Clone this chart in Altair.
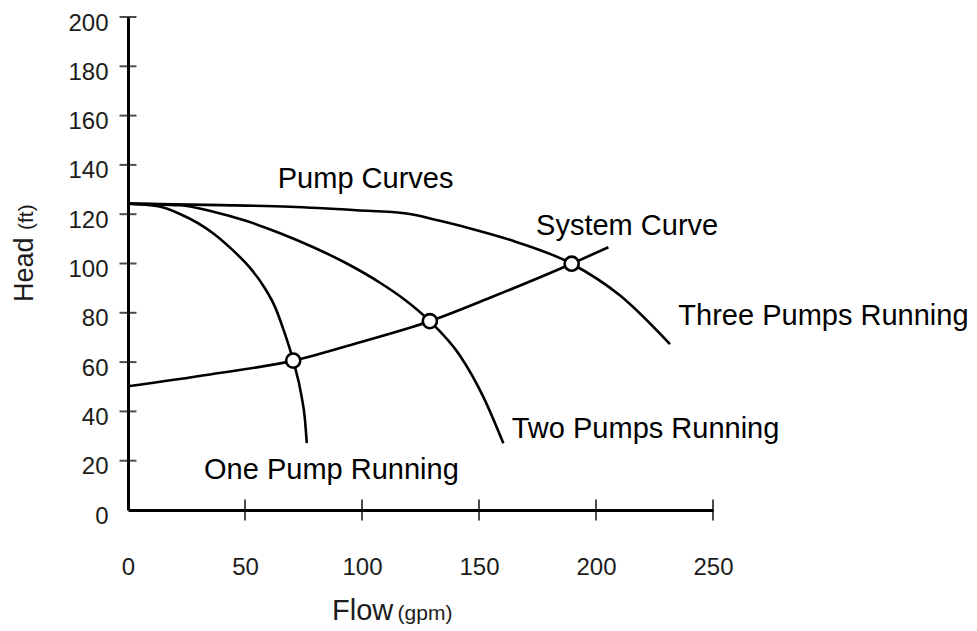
import altair as alt
import pandas as pd

# Axis tick values
flow_ticks = [0, 50, 100, 150, 200, 250]
head_ticks = [0, 20, 40, 60, 80, 100, 120, 140, 160, 180, 200]

# Pump curves (flow gpm, head ft)
one_flow = [0, 12.9, 22.2, 36.5, 45, 52, 57.8, 63, 66.4, 70.6, 74.2, 75.6, 76.4]
one_head = [124.3, 123.2, 120.1, 112.2, 105.2, 98.4, 91, 82, 73.3, 60.6, 46, 37, 27.1]

two_flow = [0, 22.2, 36.5, 50.7, 65, 79.2, 93.5, 107.7, 118, 129, 141.9, 151.8, 160.4]
two_head = [124.3, 123.6, 121, 117.2, 112.3, 106.6, 100, 92.2, 85.5, 76.6, 62.6, 46, 27.1]

three_flow = [0, 40, 69.2, 97.7, 119, 133.3, 149, 163.2, 189.6, 210.3, 231.6]
three_head = [124.3, 123.7, 123, 121.6, 120.3, 117.3, 113.5, 109.6, 99.9, 87, 67.3]

# System curve
system_flow = [0, 35, 70.6, 100, 129, 156, 189.6, 205.3]
system_head = [50.2, 55, 60.6, 68.3, 76.6, 86.6, 99.9, 106.6]

# Operating points
op_flow = [70.6, 129, 189.6]
op_head = [60.6, 76.6, 99.9]

# Curve labels (anchored in data units)
label_text = ["Pump Curves", "System Curve", "Three Pumps Running",
              "Two Pumps Running", "One Pump Running"]
label_flow = [64, 174.4, 235.2, 164, 32.5]
label_head = [130.6, 111.6, 75.1, 29.1, 12.5]

curves = pd.concat([
    pd.DataFrame({"flow": one_flow, "head": one_head, "series": "one"}),
    pd.DataFrame({"flow": two_flow, "head": two_head, "series": "two"}),
    pd.DataFrame({"flow": three_flow, "head": three_head, "series": "three"}),
    pd.DataFrame({"flow": system_flow, "head": system_head, "series": "system"}),
], ignore_index=True)

ops = pd.DataFrame({"flow": op_flow, "head": op_head})
labels = pd.DataFrame({"flow": label_flow, "head": label_head, "text": label_text})
xticks = pd.DataFrame({"flow": flow_ticks[1:], "head": [0] * (len(flow_ticks) - 1)})
yticks = pd.DataFrame({"flow": [0] * (len(head_ticks) - 1), "head": head_ticks[1:]})

FONT = "Liberation Sans, Arial, Helvetica, sans-serif"
AXCOLOR = "#1c1c1c"

x_axis = alt.Axis(values=flow_ticks, ticks=False, tickSize=0, grid=False, title=None,
                  domainColor="black", domainWidth=3, labelFont=FONT, labelFontSize=24,
                  labelColor=AXCOLOR, labelPadding=45, labelFlush=False)
y_axis = alt.Axis(values=head_ticks, ticks=False, tickSize=0, grid=False, title=None,
                  domainColor="black", domainWidth=3, labelFont=FONT, labelFontSize=24,
                  labelColor=AXCOLOR, labelPadding=20, labelOffset=6, labelFlush=False)

X = alt.X("flow:Q", scale=alt.Scale(domain=[0, 250], nice=False, zero=True), axis=x_axis)
Y = alt.Y("head:Q", scale=alt.Scale(domain=[0, 200], nice=False, zero=True), axis=y_axis)

lines = alt.Chart(curves).mark_line(interpolate="monotone", color="black", strokeWidth=2.6).encode(
    x=X, y=Y, detail="series:N")

points = alt.Chart(ops).mark_point(shape="circle", filled=True, fill="white", stroke="black",
                                   strokeWidth=2.6, size=200, opacity=1).encode(x=X, y=Y)

xt = alt.Chart(xticks).mark_tick(orient="vertical", size=21, thickness=2, color="black").encode(x=X, y=Y)
yt = alt.Chart(yticks).mark_tick(orient="horizontal", size=17, thickness=2, color="black").encode(x=X, y=Y)

text = alt.Chart(labels).mark_text(align="left", baseline="alphabetic", font=FONT,
                                   fontSize=29, color="black").encode(x=X, y=Y, text="text:N")

# Axis titles (mixed sizes), placed in data units below / left of the axes
xtitle_main = pd.DataFrame({"flow": [87.2], "head": [-44.6], "text": ["Flow"]})
xtitle_unit = pd.DataFrame({"flow": [115.2], "head": [-44.6], "text": ["(gpm)"]})
ytitle_main = pd.DataFrame({"flow": [-40.6], "head": [84.4], "text": ["Head"]})
ytitle_unit = pd.DataFrame({"flow": [-40.6], "head": [113.6], "text": ["(ft)"]})

t1 = alt.Chart(xtitle_main).mark_text(align="left", baseline="alphabetic", font=FONT,
                                      fontSize=29, color=AXCOLOR).encode(x=X, y=Y, text="text:N")
t2 = alt.Chart(xtitle_unit).mark_text(align="left", baseline="alphabetic", font=FONT,
                                      fontSize=21, color=AXCOLOR).encode(x=X, y=Y, text="text:N")
t3 = alt.Chart(ytitle_main).mark_text(align="left", baseline="alphabetic", font=FONT, angle=270,
                                      fontSize=27, color=AXCOLOR).encode(x=X, y=Y, text="text:N")
t4 = alt.Chart(ytitle_unit).mark_text(align="left", baseline="alphabetic", font=FONT, angle=270,
                                      fontSize=21, color=AXCOLOR).encode(x=X, y=Y, text="text:N")

chart = alt.layer(lines, xt, yt, points, text, t1, t2, t3, t4).properties(
    width=585, height=493,
    autosize=alt.AutoSizeParams(type="none"),
    padding={"left": 120, "top": 9, "right": 256, "bottom": 118},
    background="white",
).configure_view(stroke=None)

chart.save("out.html", embed_options={"renderer": "svg", "actions": False})
